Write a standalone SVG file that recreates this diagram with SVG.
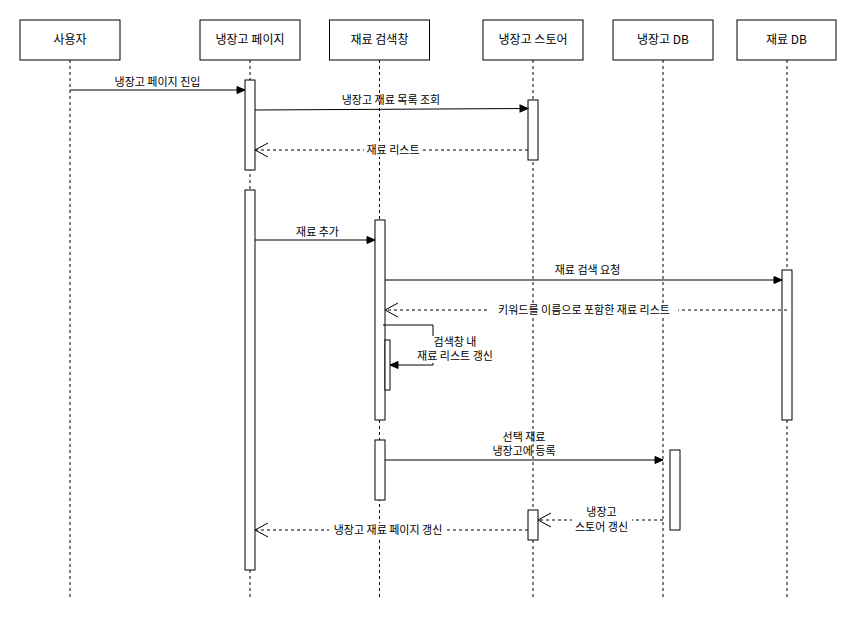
<svg xmlns="http://www.w3.org/2000/svg" width="856" height="621" viewBox="0 0 856 621">
<style>
.hdr{fill:#fff;stroke:#000;stroke-width:1}
.life{stroke:#000;stroke-width:1;stroke-dasharray:3 3;fill:none}
.act{fill:#fff;stroke:#000;stroke-width:1}
.msg{stroke:#000;stroke-width:1;fill:none}
.ret{stroke:#000;stroke-width:1;fill:none;stroke-dasharray:3 3}
.ht{font-family:"Noto Sans CJK KR","Liberation Sans",sans-serif;font-size:12px;fill:#000;text-anchor:middle}
.lt{font-family:"Noto Sans CJK KR","Liberation Sans",sans-serif;font-size:11px;fill:#000;text-anchor:middle}
.bg{fill:#fff;stroke:none}
</style>
<defs>
<marker id="block" markerUnits="userSpaceOnUse" markerWidth="9" markerHeight="8" refX="8" refY="3.5" orient="auto" overflow="visible">
<path d="M0,0 L8,3.5 L0,7 z" fill="#000" stroke="#000" stroke-width="1"/>
</marker>
<marker id="open" markerUnits="userSpaceOnUse" markerWidth="14" markerHeight="15" refX="13" refY="7" orient="auto" overflow="visible">
<path d="M0,0 L13,7 L0,14" fill="none" stroke="#000" stroke-width="1"/>
</marker>
</defs>
<rect width="856" height="621" fill="#fff"/>

<g id="user">
<line class="life" x1="70" y1="60" x2="70" y2="597"/>
<rect class="hdr" x="20" y="20" width="100" height="40"/>
<text class="ht" x="70" y="44">사용자</text>
</g>
<g id="fridge-page">
<line class="life" x1="250" y1="60" x2="250" y2="597"/>
<rect class="hdr" x="200" y="20" width="100" height="40"/>
<text class="ht" x="250" y="44">냉장고 페이지</text>
<rect class="act" x="245" y="80" width="10" height="90"/>
<rect class="act" x="245" y="190" width="10" height="380"/>
</g>
<g id="search-window">
<line class="life" x1="379.5" y1="60" x2="379.5" y2="597"/>
<rect class="hdr" x="329.5" y="20" width="100" height="40"/>
<text class="ht" x="379.5" y="44">재료 검색창</text>
<rect class="act" x="375" y="220" width="10" height="200"/>
<rect class="act" x="385" y="340" width="5" height="50"/>
<rect class="act" x="375" y="440" width="10" height="60"/>
</g>
<g id="fridge-store">
<line class="life" x1="533" y1="60" x2="533" y2="597"/>
<rect class="hdr" x="483" y="20" width="100" height="40"/>
<text class="ht" x="533" y="44">냉장고 스토어</text>
<rect class="act" x="528" y="100" width="10" height="60"/>
<rect class="act" x="528" y="510" width="10" height="30"/>
</g>
<g id="fridge-db">
<line class="life" x1="663" y1="60" x2="663" y2="597"/>
<rect class="hdr" x="613" y="20" width="100" height="40"/>
<text class="ht" x="663" y="44">냉장고 DB</text>
<rect class="act" x="670" y="450" width="10" height="80"/>
</g>
<g id="ingredient-db">
<line class="life" x1="787" y1="60" x2="787" y2="597"/>
<rect class="hdr" x="737" y="20" width="99" height="40"/>
<text class="ht" x="786.5" y="44">재료 DB</text>
<rect class="act" x="782" y="270" width="10" height="150"/>
</g>

<g id="connectors">
<line class="msg" x1="70" y1="90" x2="245" y2="90" marker-end="url(#block)"/>
<text class="lt" x="157.5" y="85.5">냉장고 페이지 진입</text>

<line class="msg" x1="255" y1="110" x2="528" y2="108.5" marker-end="url(#block)"/>
<text class="lt" x="391" y="104">냉장고 재료 목록 조회</text>

<line class="ret" x1="528" y1="150" x2="255" y2="150" marker-end="url(#open)"/>
<rect class="bg" x="364" y="143" width="58" height="14"/>
<text class="lt" x="393" y="154">재료 리스트</text>

<line class="msg" x1="255" y1="240" x2="375" y2="240" marker-end="url(#block)"/>
<text class="lt" x="317.5" y="235.5">재료 추가</text>

<line class="msg" x1="385" y1="280" x2="782" y2="280" marker-end="url(#block)"/>
<text class="lt" x="587.5" y="274">재료 검색 요청</text>

<line class="ret" x1="787" y1="310" x2="385" y2="310" marker-end="url(#open)"/>
<rect class="bg" x="490" y="303" width="188" height="14"/>
<text class="lt" x="584" y="314">키워드를 이름으로 포함한 재료 리스트</text>

<polyline class="msg" points="383,325 433,325 433,365 390,365" marker-end="url(#block)"/>
<rect class="bg" x="413" y="336" width="84" height="27"/>
<text class="lt" x="455" y="346">검색창 내</text>
<text class="lt" x="455" y="360">재료 리스트 갱신</text>

<line class="msg" x1="385" y1="460" x2="663" y2="460" marker-end="url(#block)"/>
<text class="lt" x="524" y="441">선택 재료</text>
<text class="lt" x="524" y="455">냉장고에 등록</text>

<line class="ret" x1="663" y1="520" x2="538" y2="520" marker-end="url(#open)"/>
<rect class="bg" x="572" y="505" width="60" height="28"/>
<text class="lt" x="601.5" y="516">냉장고</text>
<text class="lt" x="601.5" y="531">스토어 갱신</text>

<line class="ret" x1="528" y1="530" x2="255" y2="530" marker-end="url(#open)"/>
<rect class="bg" x="329" y="523" width="118" height="14"/>
<text class="lt" x="388" y="534">냉장고 재료 페이지 갱신</text>
</g>
</svg>
